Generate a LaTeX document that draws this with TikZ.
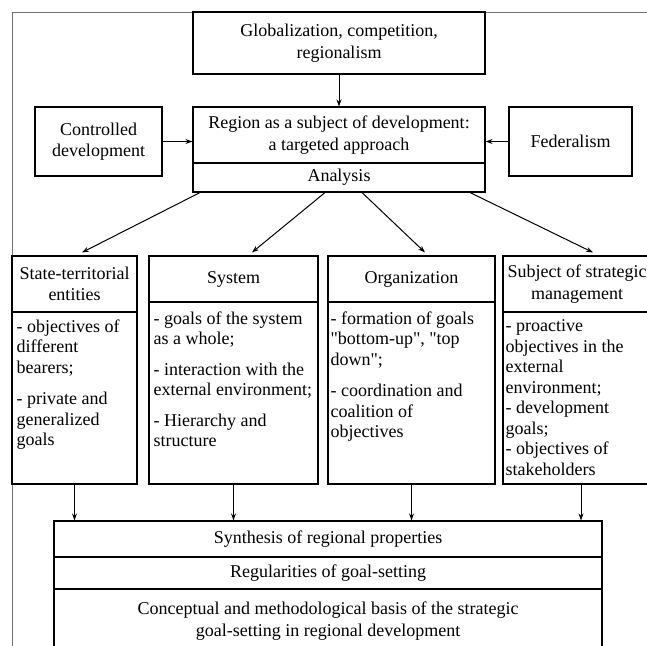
\documentclass[tikz,border=0pt]{standalone}
\usepackage{fontspec}
\setmainfont{Liberation Serif}[Ligatures=TeXOff]
\usetikzlibrary{arrows.meta,calc}
\begin{document}
\begin{tikzpicture}[x=1pt,y=-1pt,
  box/.style={draw=black, line width=1.1pt, rectangle, inner sep=0pt, align=center, font=\fontsize{18}{21.5}\selectfont},
  txt/.style={inner sep=0pt, align=left, anchor=north west, font=\fontsize{18}{20.5}\selectfont},
  arr/.style={-{Stealth[length=7pt,width=5pt]}, line width=1pt},
  framestyle/.style={draw=black!55, line width=0.8pt}]
\useasboundingbox (0,0) rectangle (647,645);
\clip (0,0) rectangle (647,645);

% outer frame (partly cropped)
\coordinate (fr1) at (12,700);
\coordinate (fr2) at (12,12);
\coordinate (fr3) at (700,12);
\draw[framestyle] (fr1) -- (fr2) -- (fr3);

% top part
\node[box, minimum width=292pt, minimum height=62pt] (glob) at (339,43) {Globalization, competition,\\regionalism};
\node[box, minimum width=292pt, minimum height=56pt] (region) at (339,135) {Region as a subject of development:\\a targeted approach};
\node[box, minimum width=292pt, minimum height=29pt] (analysis) at (339,177.5) {Analysis};
\node[box, minimum width=127pt, minimum height=69pt] (ctrl) at (98.5,141.5) {Controlled\\development};
\node[box, minimum width=123pt, minimum height=69pt] (fed) at (570.5,141.5) {Federalism};

% four columns
\node[box, minimum width=125pt, minimum height=56pt] (h1) at (74.5,284) {State-territorial\\entities};
\node[box, minimum width=125pt, minimum height=172pt] (b1) at (74.5,398) {};
\node[box, minimum width=169pt, minimum height=46pt] (h2) at (233.5,279) {System};
\node[box, minimum width=169pt, minimum height=182pt] (b2) at (233.5,393) {};
\node[box, minimum width=167pt, minimum height=46pt] (h3) at (411.5,279) {Organization};
\node[box, minimum width=167pt, minimum height=182pt] (b3) at (411.5,393) {};
\node[box, minimum width=148pt, minimum height=56pt] (h4) at (577,284) {Subject of strategic\\management};
\node[box, minimum width=148pt, minimum height=172pt] (b4) at (577,398) {};

\node[txt] (t1) at ($(b1.north west)+(5,8)$) {- objectives of\\different\\bearers;\\[11pt]- private and\\generalized\\goals};
\node[txt] (t2) at ($(b2.north west)+(5,10)$) {- goals of the system\\as a whole;\\[10pt]- interaction with the\\external environment;\\[10pt]- Hierarchy and\\structure};
\node[txt] (t3) at ($(b3.north west)+(3,10)$) {- formation of goals\\"bottom-up", "top\\down";\\[11pt]- coordination and\\coalition of\\objectives};
\node[txt] (t4) at ($(b4.north west)+(3,8)$) {- proactive\\objectives in the\\external\\environment;\\- development\\goals;\\- objectives of\\stakeholders};

% bottom box
\node[box, minimum width=548pt, minimum height=36pt] (synth) at (328,539) {Synthesis of regional properties};
\node[box, minimum width=548pt, minimum height=32pt] (regul) at (328,573) {Regularities of goal-setting};
\node[box, minimum width=548pt, minimum height=64pt] (concept) at (328,621) {Conceptual and methodological basis of the strategic\\goal-setting in regional development};

% connectors
\draw[arr] (glob.south) -- (region.north);
\draw[arr] (ctrl.east) -- (ctrl.east -| region.west);
\draw[arr] (fed.west) -- (fed.west -| region.east);
\draw[arr] ([xshift=-139pt]analysis.south) -- ([xshift=7.5pt,yshift=3pt]h1.north);
\draw[arr] ([xshift=-14pt]analysis.south) -- ([xshift=18.5pt,yshift=3pt]h2.north);
\draw[arr] ([xshift=23pt]analysis.south) -- ([xshift=13.5pt,yshift=3pt]h3.north);
\draw[arr] ([xshift=131pt]analysis.south) -- ([xshift=16pt,yshift=3pt]h4.north);
\draw[arr] (b1.south) -- (b1.south |- synth.north);
\draw[arr] (b2.south) -- (b2.south |- synth.north);
\draw[arr] (b3.south) -- (b3.south |- synth.north);
\draw[arr] ([xshift=4pt]b4.south) -- ([xshift=4pt]b4.south |- synth.north);
\end{tikzpicture}
\end{document}
